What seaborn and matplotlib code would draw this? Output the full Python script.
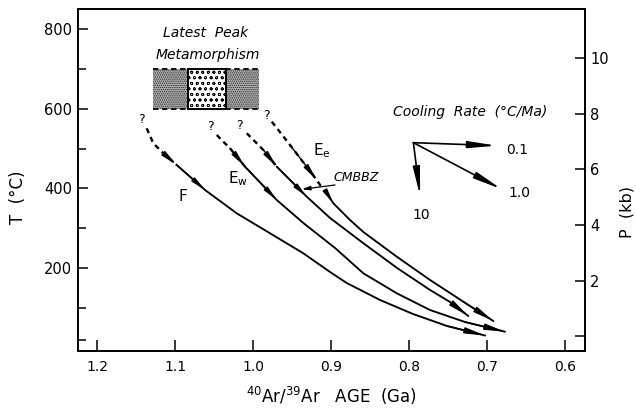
import matplotlib
matplotlib.use("Agg")
import matplotlib.pyplot as plt
import seaborn as sns
from matplotlib.patches import Rectangle

sns.set_theme(style="ticks")
plt.rcParams["font.family"] = ["DejaVu Sans"]
plt.rcParams["hatch.linewidth"] = 0.55

# ---------------- data ----------------
x_ticks = [1.2, 1.1, 1.0, 0.9, 0.8, 0.7, 0.6]
x_tick_labels = ["1.2", "1.1", "1.0", "0.9", "0.8", "0.7", "0.6"]
t_major = [200, 400, 600, 800]
t_minor = [20, 100, 300, 500, 700]
p_ticks = [0, 2, 4, 6, 8, 10]
p_tick_labels = ["", "2", "4", "6", "8", "10"]

# F path
f_dash_age = [1.1366, 1.1281, 1.1156, 1.0981]
f_dash_T = [550.8, 513.2, 488.8, 458.7]
f_age = [1.0981, 1.0617, 1.0211, 0.9783, 0.9356, 0.9013, 0.8799, 0.8372, 0.7948, 0.7512, 0.7024]
f_T = [458.7, 395.9, 337.4, 287.2, 237.0, 190.0, 162.4, 119.8, 84.6, 54.5, 30.6]

# Ew path
ew_dash_age = [1.0467, 1.0383, 1.0297, 1.0104]
ew_dash_T = [534.0, 517.2, 500.6, 454.4]
ew_age = [1.0104, 0.9697, 0.9356, 0.8949, 0.8586, 0.8157, 0.7730, 0.7281, 0.6768]
ew_T = [454.4, 370.8, 313.0, 250.3, 186.8, 136.6, 94.6, 64.5, 40.2]

# CMBBZ path
cm_dash_age = [1.0082, 0.9869, 0.9697]
cm_dash_T = [538.3, 496.4, 454.4]
cm_age = [0.9697, 0.9312, 0.9013, 0.8590, 0.8153, 0.7730, 0.7473, 0.7239]
cm_T = [454.4, 379.1, 325.6, 262.9, 200.1, 144.9, 114.7, 79.6]

# Ee path
ee_dash_age = [0.9761, 0.9527, 0.9184, 0.9116]
ee_dash_T = [567.4, 508.9, 421.0, 401.0]
ee_age = [0.9039, 0.8971, 0.8757, 0.8586, 0.8157, 0.7730, 0.7303, 0.6918]
ee_T = [383.4, 362.5, 320.6, 290.5, 228.5, 170.0, 115.5, 67.0]

# Latest peak metamorphism box
peak_age = [1.128, 0.993]
peak_T = [600, 700]
core_age = [1.084, 1.035]

# cooling-rate key
rate_origin = [0.7944, 514.7]
rate_labels = ["0.1", "1.0", "10"]
rate_tip_age = [0.6874, 0.6810, 0.7858]
rate_tip_T = [507.2, 397.7, 380.9]

# ---------------- figure ----------------
fig = plt.figure(figsize=(6.36, 4.13), dpi=100)
ax = fig.add_axes([0.1222, 0.1513, 0.7969, 0.8257])
ax.set_xlim(1.2251, 0.5748)
ax.set_ylim(-7.0, 849.0)

k = "black"


def line(a, t, dashed=False):
    sns.lineplot(x=a, y=t, ax=ax, sort=False, estimator=None, color=k,
                 lw=1.7 if dashed else 1.35,
                 linestyle=(0, (2.2, 1.8)) if dashed else "-",
                 legend=False)


def head(a0, t0, a1, t1, hl=0.8, hw=0.13, lw=1.0):
    ax.annotate("", xy=(a1, t1), xytext=(a0, t0),
                arrowprops=dict(arrowstyle=f"-|>,head_length={hl},head_width={hw}",
                                color=k, lw=lw, shrinkA=0, shrinkB=0))


paths = [
    (f_dash_age, f_dash_T, f_age, f_T, len(f_dash_age) - 1),
    (ew_dash_age, ew_dash_T, ew_age, ew_T, len(ew_dash_age) - 1),
    (cm_dash_age, cm_dash_T, cm_age, cm_T, len(cm_dash_age) - 1),
    (ee_dash_age, ee_dash_T, ee_age, ee_T, 2),
]
for da, dt, sa, st, ih in paths:
    line(da, dt, dashed=True)
    head(da[ih - 1], dt[ih - 1], da[ih], dt[ih])
    line(sa, st)
    head(sa[0], st[0], sa[1], st[1], hl=0.7, hw=0.12)
    head(sa[-2], st[-2], sa[-1], st[-1], hl=1.0, hw=0.15)

# question marks at the start of each path
for a, t in [(1.143, 571.7), (1.0545, 556.0), (1.017, 559.0), (0.983, 583.0)]:
    ax.text(a, t, "?", ha="center", va="center", fontsize=9, color=k)

# curve labels
ax.text(1.0906, 379.0, "F", ha="center", va="center", fontsize=11, color=k)
ax.text(1.0322, 413.5, r"E$_\mathrm{w}$", ha="left", va="baseline", fontsize=11, color=k)
ax.text(0.9231, 483.8, r"E$_\mathrm{e}$", ha="left", va="baseline", fontsize=11, color=k)
ax.text(0.8971, 427.3, "CMBBZ", ha="left", va="center", fontsize=9, style="italic", color=k)
ax.annotate("", xy=(0.9376, 397.7), xytext=(0.8949, 408.5),
            arrowprops=dict(arrowstyle="-|>,head_length=0.4,head_width=0.1",
                            color=k, lw=0.9, shrinkA=0, shrinkB=0))

# latest peak metamorphism box
ax.add_patch(Rectangle((peak_age[0], peak_T[0]), peak_age[1] - peak_age[0],
                       peak_T[1] - peak_T[0], facecolor="#a9a9a9",
                       edgecolor="#2a2a2a", hatch="........", lw=0, zorder=2))
for tv in peak_T:
    ax.plot(peak_age, [tv, tv], color=k, lw=1.3, linestyle=(0, (3, 2)), zorder=3)
ax.add_patch(Rectangle((core_age[0], peak_T[0]), core_age[1] - core_age[0],
                       peak_T[1] - peak_T[0], facecolor="white",
                       edgecolor=k, hatch="ooo", lw=1.4, zorder=4))
ax.text(1.0617, 790.0, "Latest  Peak", ha="center", va="center", fontsize=10,
        style="italic", color=k)
ax.text(1.0579, 735.0, "Metamorphism", ha="center", va="center", fontsize=10,
        style="italic", color=k)

# cooling rate key
ax.text(0.7217, 592.5, "Cooling  Rate  (°C/Ma)", ha="center", va="center",
        fontsize=10, style="italic", color=k)
for ta, tt in zip(rate_tip_age, rate_tip_T):
    head(rate_origin[0], rate_origin[1], ta, tt, hl=1.4, hw=0.17, lw=1.2)
for lab, (a, t) in zip(rate_labels, [(0.6618, 496.4), (0.6588, 388.4), (0.7837, 333.2)]):
    ax.text(a, t, lab, ha="center", va="center", fontsize=10, color=k)

# axes styling
ax.set_xticks(x_ticks)
ax.set_xticklabels(x_tick_labels)
ax.set_yticks(t_major)
ax.set_yticks(t_minor, minor=True)
ax.tick_params(axis="both", which="both", direction="in", colors=k, width=1.1)
ax.tick_params(axis="x", which="major", length=8, pad=7, labelsize=10)
ax.tick_params(axis="y", which="major", length=7, pad=4, labelsize=10.5)
ax.tick_params(axis="y", which="minor", length=6)
for s in ax.spines.values():
    s.set_color(k)
    s.set_linewidth(1.2)
ax.set_xlabel(r"$^{40}$Ar/$^{39}$Ar   AGE  (Ga)", fontsize=12, color=k)
ax.xaxis.set_label_coords(0.5, -0.102)
ax.set_ylabel("T  (°C)", fontsize=12, color=k)
ax.yaxis.set_label_coords(-0.10, 0.45)

ax2 = ax.twinx()
ax2.set_ylim(-0.505, 11.74)
ax2.set_yticks(p_ticks)
ax2.set_yticklabels(p_tick_labels)
ax2.tick_params(axis="y", direction="in", length=7, width=1.1, pad=4,
                labelsize=10.5, colors=k)
for s in ax2.spines.values():
    s.set_color(k)
    s.set_linewidth(1.2)
ax2.set_ylabel("P  (kb)", fontsize=11.5, color=k)
ax2.yaxis.set_label_coords(1.068, 0.406)

fig.savefig("out.png", dpi=100)
